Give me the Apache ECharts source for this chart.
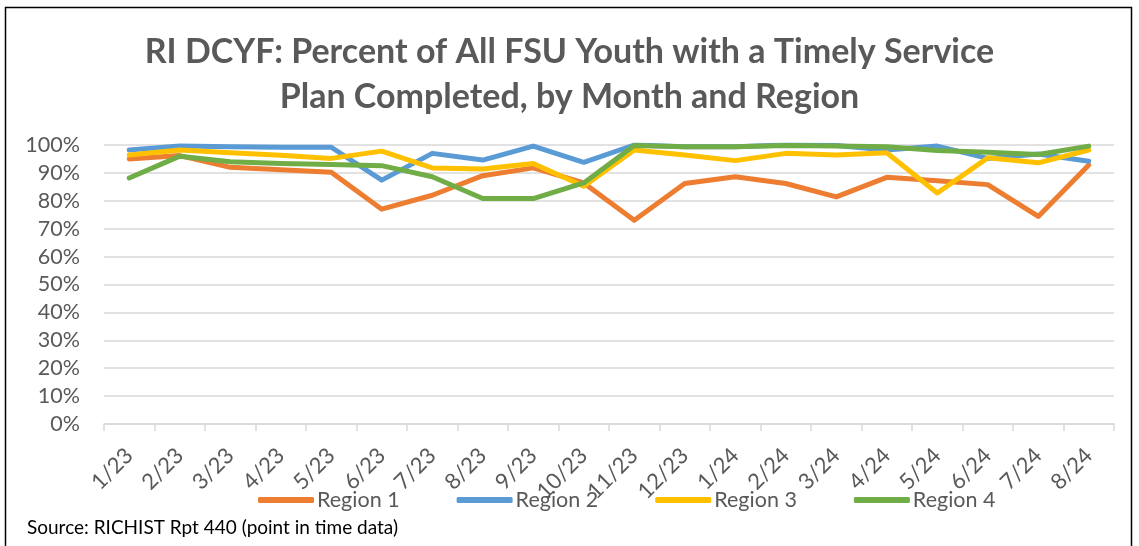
<!DOCTYPE html>
<html><head><meta charset="utf-8">
<script src="https://cdn.jsdelivr.net/npm/echarts@6/dist/echarts.min.js"></script>
<style>html,body{margin:0;padding:0;background:#fff}#c{width:1139px;height:546px}</style>
</head><body><div id="c"></div>
<script>
const months = ['1/23','2/23','3/23','4/23','5/23','6/23','7/23','8/23','9/23','10/23','11/23','12/23','1/24','2/24','3/24','4/24','5/24','6/24','7/24','8/24'];
const region1 = [95.0, 96.2, 92.0, 91.1, 90.2, 77.0, 82.0, 89.0, 91.8, 86.4, 73.0, 86.2, 88.6, 86.2, 81.4, 88.4, 87.2, 85.8, 74.4, 92.8];
const region2 = [98.2, 99.6, 99.4, 99.2, 99.2, 87.4, 97.0, 94.6, 99.6, 93.8, 100, 99.4, 99.4, 100, 99.8, 98.2, 99.6, 95.2, 96.8, 94.2];
const region3 = [96.4, 98.2, 97.2, 96.3, 95.2, 97.8, 91.8, 91.4, 93.4, 85.2, 98.2, 96.4, 94.4, 97.0, 96.4, 97.2, 82.8, 95.4, 93.6, 98.2];
const region4 = [88.2, 96.0, 94.0, 93.4, 93.0, 92.6, 88.6, 80.8, 80.8, 86.4, 99.8, 99.4, 99.4, 99.8, 99.6, 99.4, 98.0, 97.4, 96.6, 99.6];
const seriesNames = ['Region 1','Region 2','Region 3','Region 4'];
const colors = ['#ED7D31','#5B9BD5','#FFC000','#70AD47'];
const yTicks = {min: 0, max: 100, interval: 10};

const FONT = 'Lato';
const chart = echarts.init(document.getElementById('c'), null, {renderer: 'canvas'});
const data = [region1, region2, region3, region4];
chart.setOption({
  animation: false,
  textStyle: {fontFamily: FONT},
  title: {
    text: 'RI DCYF: Percent of All FSU Youth with a Timely Service\nPlan Completed, by Month and Region',
    left: 'center', top: 25,
    textStyle: {fontFamily: FONT, fontWeight: 'bold', fontSize: 34, color: '#595959', lineHeight: 45}
  },
  legend: {
    top: 484, left: 253,
    itemWidth: 56, itemHeight: 6, itemGap: 57,
    icon: 'roundRect',
    textStyle: {fontFamily: FONT, fontSize: 21.5, color: '#595959', padding: [0,0,0,-2]},
    data: seriesNames
  },
  grid: {left: 104, right: 25, top: 145, bottom: 122, containLabel: false},
  xAxis: {
    type: 'category', data: months, boundaryGap: true,
    axisLine: {lineStyle: {color: '#d9d9d9', width: 1.5}},
    axisTick: {show: true, length: 7, lineStyle: {color: '#d9d9d9', width: 1.5}},
    axisLabel: {rotate: 45, interval: 0, fontFamily: FONT, fontSize: 22, color: '#595959', margin: 28}
  },
  yAxis: {
    type: 'value', min: yTicks.min, max: yTicks.max, interval: yTicks.interval,
    axisLine: {show: false}, axisTick: {show: false},
    splitLine: {lineStyle: {color: '#d9d9d9', width: 1.5}},
    axisLabel: {formatter: '{value}%', fontFamily: FONT, fontSize: 21.5, color: '#595959', margin: 24}
  },
  series: data.map((d, i) => ({
    name: seriesNames[i], type: 'line', data: d, symbol: 'none',
    lineStyle: {width: 5, color: colors[i], cap: 'round', join: 'round'},
    itemStyle: {color: colors[i]}
  })),
  graphic: [
    {type: 'rect', shape: {x: 5.5, y: 7.5, width: 1126, height: 560}, style: {fill: 'none', stroke: '#000', lineWidth: 1.5}, silent: true},
    {type: 'text', left: 27, top: 518, style: {text: 'Source: RICHIST Rpt 440 (point in time data)', fontFamily: FONT, fontSize: 19, fill: '#000'}}
  ]
});
</script></body></html>
